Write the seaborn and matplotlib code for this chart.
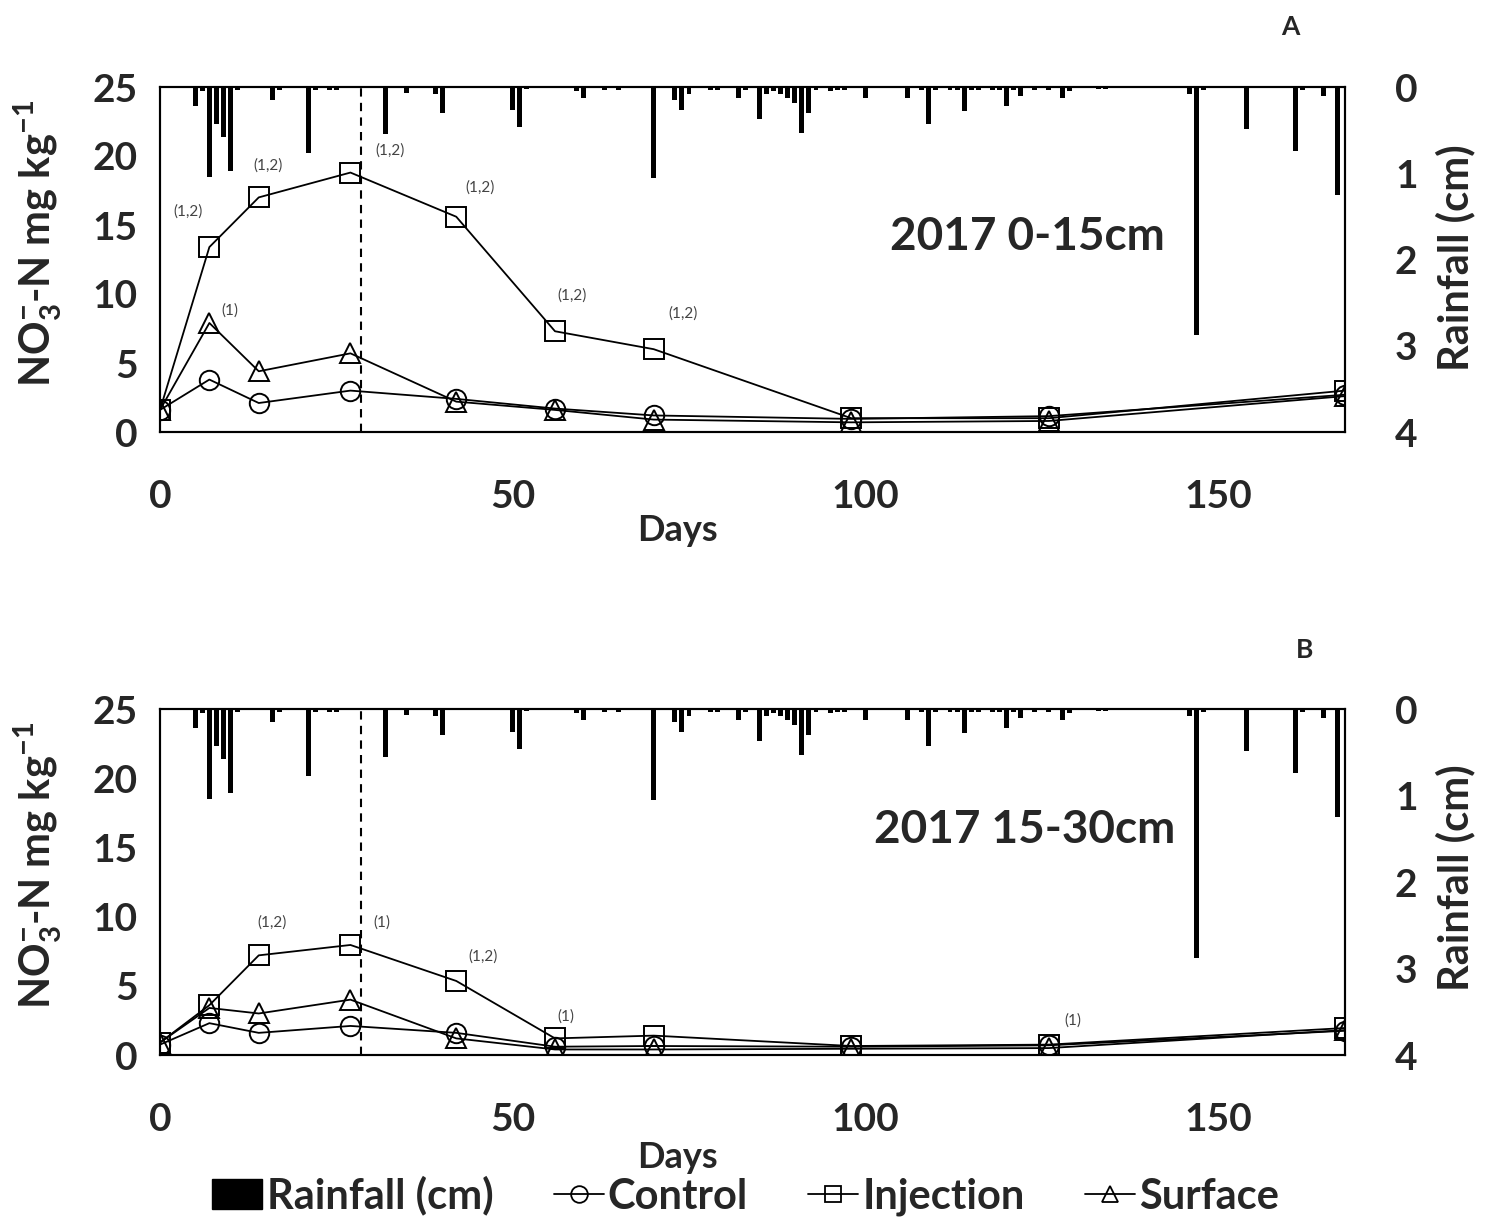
import numpy as np
import pandas as pd
import matplotlib
matplotlib.use("Agg")
import matplotlib.pyplot as plt
import seaborn as sns
from matplotlib.lines import Line2D
from matplotlib.patches import Patch

# ---------------- data ----------------
days = [0, 7, 14, 27, 42, 56, 70, 98, 126, 168]
treatments = ["Control", "Injection", "Surface"]

A_control = [1.6, 3.8, 2.1, 3.0, 2.4, 1.7, 1.2, 0.95, 1.15, 2.7]
A_injection = [1.6, 13.4, 17.0, 18.8, 15.6, 7.3, 6.0, 1.0, 1.0, 3.0]
A_surface = [1.6, 7.9, 4.4, 5.7, 2.2, 1.6, 0.9, 0.7, 0.8, 2.6]

B_control = [0.75, 2.3, 1.6, 2.1, 1.6, 0.6, 0.65, 0.6, 0.7, 1.75]
B_injection = [0.9, 3.6, 7.2, 7.95, 5.35, 1.2, 1.4, 0.65, 0.75, 1.95]
B_surface = [0.9, 3.4, 3.0, 4.0, 1.2, 0.4, 0.4, 0.45, 0.5, 1.8]

rain_day = [5, 6, 7, 8, 9, 10, 11, 16, 17, 21, 22, 24, 25, 32, 35, 39, 40,
            50, 51, 52, 59, 60, 63, 65, 70, 73, 74, 75, 78, 79, 82, 83,
            85, 86, 87, 88, 89, 90, 91, 92, 93, 95, 96, 97, 100, 106,
            108, 109, 110, 112, 113, 114, 115, 116, 118, 119, 120, 121, 122,
            124, 126, 128, 129, 133, 134, 146, 147, 148, 154, 161, 162, 165, 167]
rain_cm = [0.22, 0.05, 1.04, 0.43, 0.58, 0.97, 0.04, 0.15, 0.03, 0.77, 0.03, 0.03, 0.03, 0.55, 0.07, 0.08, 0.30,
           0.27, 0.46, 0.02, 0.05, 0.13, 0.03, 0.03, 1.05, 0.15, 0.27, 0.08, 0.03, 0.03, 0.13, 0.03,
           0.37, 0.08, 0.05, 0.08, 0.13, 0.18, 0.53, 0.30, 0.03, 0.05, 0.03, 0.03, 0.13, 0.13,
           0.03, 0.43, 0.03, 0.03, 0.03, 0.28, 0.03, 0.03, 0.03, 0.03, 0.22, 0.04, 0.10,
           0.03, 0.03, 0.13, 0.05, 0.02, 0.02, 0.08, 2.88, 0.03, 0.49, 0.74, 0.03, 0.10, 1.25]

fert_day = 28.5  # dashed reference line

A_notes = [("(1,2)", 4.0, 16.0), ("(1,2)", 15.3, 19.3), ("(1,2)", 32.6, 20.4),
           ("(1,2)", 45.4, 17.75), ("(1,2)", 58.4, 9.9), ("(1,2)", 74.2, 8.55),
           ("(1)", 9.9, 8.77)]
B_notes = [("(1,2)", 15.9, 9.6), ("(1)", 31.5, 9.6), ("(1,2)", 45.8, 7.1),
           ("(1)", 57.6, 2.75), ("(1)", 129.4, 2.5)]

panels = [
    ("A", "2017 0-15cm", [A_control, A_injection, A_surface], A_notes),
    ("B", "2017 15-30cm", [B_control, B_injection, B_surface], B_notes),
]

# ---------------- style ----------------
sns.set_theme(style="white")
plt.rcParams["font.family"] = ["Lato", "DejaVu Sans"]
plt.rcParams["font.weight"] = "bold"
plt.rcParams["mathtext.fontset"] = "custom"
plt.rcParams["mathtext.rm"] = "Lato"
plt.rcParams["mathtext.bf"] = "Lato:bold"
plt.rcParams["mathtext.default"] = "bf"

W, H = 1494, 1224
fig = plt.figure(figsize=(W / 100, H / 100), dpi=100)

def fx(px):
    return px / W

def fy(py):
    return 1 - py / H

ax_boxes = [(160, 87, 1345, 432), (160, 709, 1345, 1055)]
markers = {"Control": "o", "Injection": "s", "Surface": "^"}
ylabel_pos = [(38, 243), (38, 865)]
rlabel_pos = [(1455, 258), (1455, 878)]
panel_letter_pos = [(1290, 27), (1305, 650)]
title_pos = [(1027, 237), (1025, 830)]
days_label_y = [530, 1158]

for i, (letter, title, series, notes) in enumerate(panels):
    l, t, r, b = ax_boxes[i]
    ax = fig.add_axes([fx(l), fy(b), fx(r) - fx(l), fy(t) - fy(b)])
    rows = []
    for name, vals in zip(treatments, series):
        for d, v in zip(days, vals):
            rows.append({"Days": d, "NO3": v, "Treatment": name})
    df = pd.DataFrame(rows)
    sns.lineplot(data=df, x="Days", y="NO3", style="Treatment", markers=markers,
                 dashes=False, color="black", lw=1.3, ms=14, mfc="none",
                 mec="black", mew=1.4, legend=False, ax=ax)
    ax.axvline(fert_day, color="black", ls=(0, (4, 3)), lw=1.5, zorder=1)
    ax.set_xlim(0, 168)
    ax.set_ylim(0, 25)
    ax.set_yticks([0, 5, 10, 15, 20, 25])
    ax.set_xticks([0, 50, 100, 150])
    ax.tick_params(axis="both", length=0, labelsize=28)
    ax.tick_params(axis="x", pad=34)
    ax.tick_params(axis="y", pad=16)
    for lab in ax.get_xticklabels() + ax.get_yticklabels():
        lab.set_fontweight("bold")
    ax.set_xlabel("Days", fontsize=26, fontweight="bold")
    ax.xaxis.set_label_coords((677 - l) / (r - l), -(days_label_y[i] - b) / (b - t))
    ax.xaxis.label.set_va("center")
    ax.set_ylabel("")
    fig.text(fx(ylabel_pos[i][0]), fy(ylabel_pos[i][1]),
             r"NO$_3^{-}$-N mg kg$^{-1}$", rotation=90, ha="center", va="center",
             fontsize=30, fontweight="bold")
    for s in ax.spines.values():
        s.set_color("black")
        s.set_linewidth(1.5)
    for txt, x, y in notes:
        ax.text(x, y, txt, fontsize=11, color="#444444", ha="center", va="center",
                fontweight="normal")
    ax.text((title_pos[i][0] - l) / (r - l), (b - title_pos[i][1]) / (b - t), title,
            transform=ax.transAxes, fontsize=33, fontweight="bold",
            ha="center", va="center")

    ax2 = ax.twinx()
    ax2.bar(rain_day, rain_cm, width=0.7, color="black", edgecolor="none")
    ax2.set_ylim(4, 0)
    ax2.set_xlim(0, 168)
    ax2.set_yticks([0, 1, 2, 3, 4])
    ax2.tick_params(axis="y", length=0, labelsize=28, pad=36)
    for lab in ax2.get_yticklabels():
        lab.set_fontweight("bold")
    ax2.grid(False)
    for s in ax2.spines.values():
        s.set_color("black")
        s.set_linewidth(1.5)
    fig.text(fx(rlabel_pos[i][0]), fy(rlabel_pos[i][1]), "Rainfall (cm)", rotation=90,
             ha="center", va="center", fontsize=30, fontweight="bold")
    fig.text(fx(panel_letter_pos[i][0]), fy(panel_letter_pos[i][1]), letter,
             ha="center", va="center", fontsize=19, fontweight="bold")

handles = [Patch(facecolor="black", edgecolor="black", label="Rainfall (cm)")]
for name in treatments:
    handles.append(Line2D([0], [0], color="black", lw=1.3, marker=markers[name], ms=12,
                          mfc="none", mec="black", mew=1.3, label=name))
fig.legend(handles=handles, loc="center", bbox_to_anchor=(fx(746), fy(1196)), ncol=4,
           frameon=False, handlelength=1.2, handletextpad=0.1,
           columnspacing=1.45, prop={"weight": "bold", "size": 30})

fig.savefig("out.png", dpi=100)
